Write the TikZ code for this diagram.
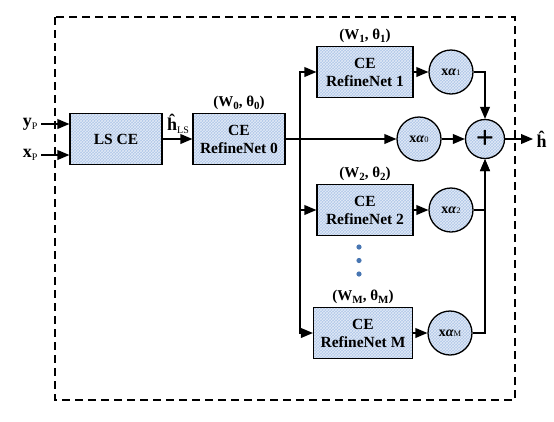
\documentclass[tikz,border=0pt]{standalone}
\usepackage{fontspec}
\setmainfont{Liberation Serif}
\usetikzlibrary{arrows,patterns}
\definecolor{boxblue}{RGB}{176,199,232}
\definecolor{dotblue}{RGB}{72,118,178}
\tikzset{
  cebox/.style={draw,line width=1.3pt,preaction={fill=boxblue},pattern=crosshatch,
    pattern color=white!65!boxblue,minimum width=96pt,minimum height=51pt,
    inner sep=0pt,align=center,font=\fontsize{15.5}{18}\selectfont\bfseries},
  mult/.style={circle,draw,line width=1.3pt,preaction={fill=boxblue},pattern=crosshatch,
    pattern color=white!65!boxblue,minimum size=44pt,inner sep=0pt,
    font=\fontsize{14}{14}\selectfont},
  wire/.style={line width=1.8pt},
  param/.style={font=\fontsize{15}{15}\selectfont\bfseries,inner sep=2.5pt}
}
\newcommand{\wt}[1]{(W\raisebox{-0.3ex}{\fontsize{11}{11}\selectfont #1}, θ\raisebox{-0.3ex}{\fontsize{11}{11}\selectfont #1})}
\newcommand{\ax}[1]{\textbf{x}\textbf{\textit{α}}{\fontsize{8.5}{8.5}\selectfont #1}}
\newcommand{\lo}[1]{\raisebox{-0.45ex}{\fontsize{10}{10}\selectfont #1}}
\begin{document}
\begin{tikzpicture}[x=1pt,y=-1pt,line join=miter,>=triangle 45]
  \useasboundingbox (0,0) rectangle (554,421);
  % frame
  \draw[line width=1.2pt,dash pattern=on 8pt off 5pt] (55,17) rectangle (515,400);
  % blocks
  \node[cebox,minimum width=92pt] (ls) at (116,139) {LS CE};
  \node[cebox,minimum width=92pt] (rn0) at (239,139) {CE\\RefineNet 0};
  \node[cebox] (rn1) at (365,72) {CE\\RefineNet 1};
  \node[cebox] (rn2) at (365,210) {CE\\RefineNet 2};
  \node[cebox,minimum width=99pt] (rnM) at (363,333) {CE\\RefineNet M};
  \node[param,above] (p0) at (rn0.north) {\wt{0}};
  \node[param,above] (p1) at (rn1.north) {\wt{1}};
  \node[param,above] (p2) at (rn2.north) {\wt{2}};
  \node[param,above] (pM) at (rnM.north) {\wt{M}};
  % weights
  \node[mult] (a0) at (419,139) {\ax{0}};
  \node[mult] (a1) at (451,72) {\ax{1}};
  \node[mult] (a2) at (451,210) {\ax{2}};
  \node[mult] (aM) at (450,333) {\ax{M}};
  \node[circle,draw,line width=1.3pt,preaction={fill=boxblue},pattern=crosshatch,
    pattern color=white!65!boxblue,minimum size=39pt,inner sep=0pt,
    font=\fontsize{32}{32}\selectfont\bfseries] (sum) at (485,139) {+};
  % dots
  \foreach \y in {247,260.5,274}
    \fill[dotblue] (359,\y) circle (2.6pt);
  % inputs and output
  \node[anchor=east,font=\fontsize{18}{18}\selectfont] (ylab) at (41,124) {\textbf{y}\lo{P}};
  \node[anchor=east,font=\fontsize{18}{18}\selectfont] (xlab) at (41,155) {\textbf{x}\lo{P}};
  \node[font=\fontsize{18}{18}\selectfont] (hls) at (178,124) {\textbf{ĥ}\lo{LS}};
  \node[anchor=west,font=\fontsize{18}{18}\selectfont] (hout) at (533,139) {\textbf{ĥ}};
  \coordinate (bus) at (300,139);
  % connectors
  \draw[wire,->] (ylab.east) -- (ylab.east -| ls.west);
  \draw[wire,->] (xlab.east) -- (xlab.east -| ls.west);
  \draw[wire,->] (ls) -- (rn0);
  \draw[wire,->] (rn0) -- (a0);
  \draw[wire,->] (bus) |- (rn1.west);
  \draw[wire,->] (bus) |- (rn2.west);
  \draw[wire,->] (bus) |- (rnM.west);
  \draw[wire,->] (rn1) -- (a1);
  \draw[wire,->] (rn2) -- (a2);
  \draw[wire,->] (rnM) -- (aM);
  \draw[wire,->] (a0) -- (sum);
  \draw[wire,->] (a1.east) -| (sum.north);
  \draw[wire,->] (a2.east) -| (sum.south);
  \draw[wire,->] (aM.east) -| (sum.south);
  \draw[wire,->] (sum) -- (hout.west);
\end{tikzpicture}
\end{document}
